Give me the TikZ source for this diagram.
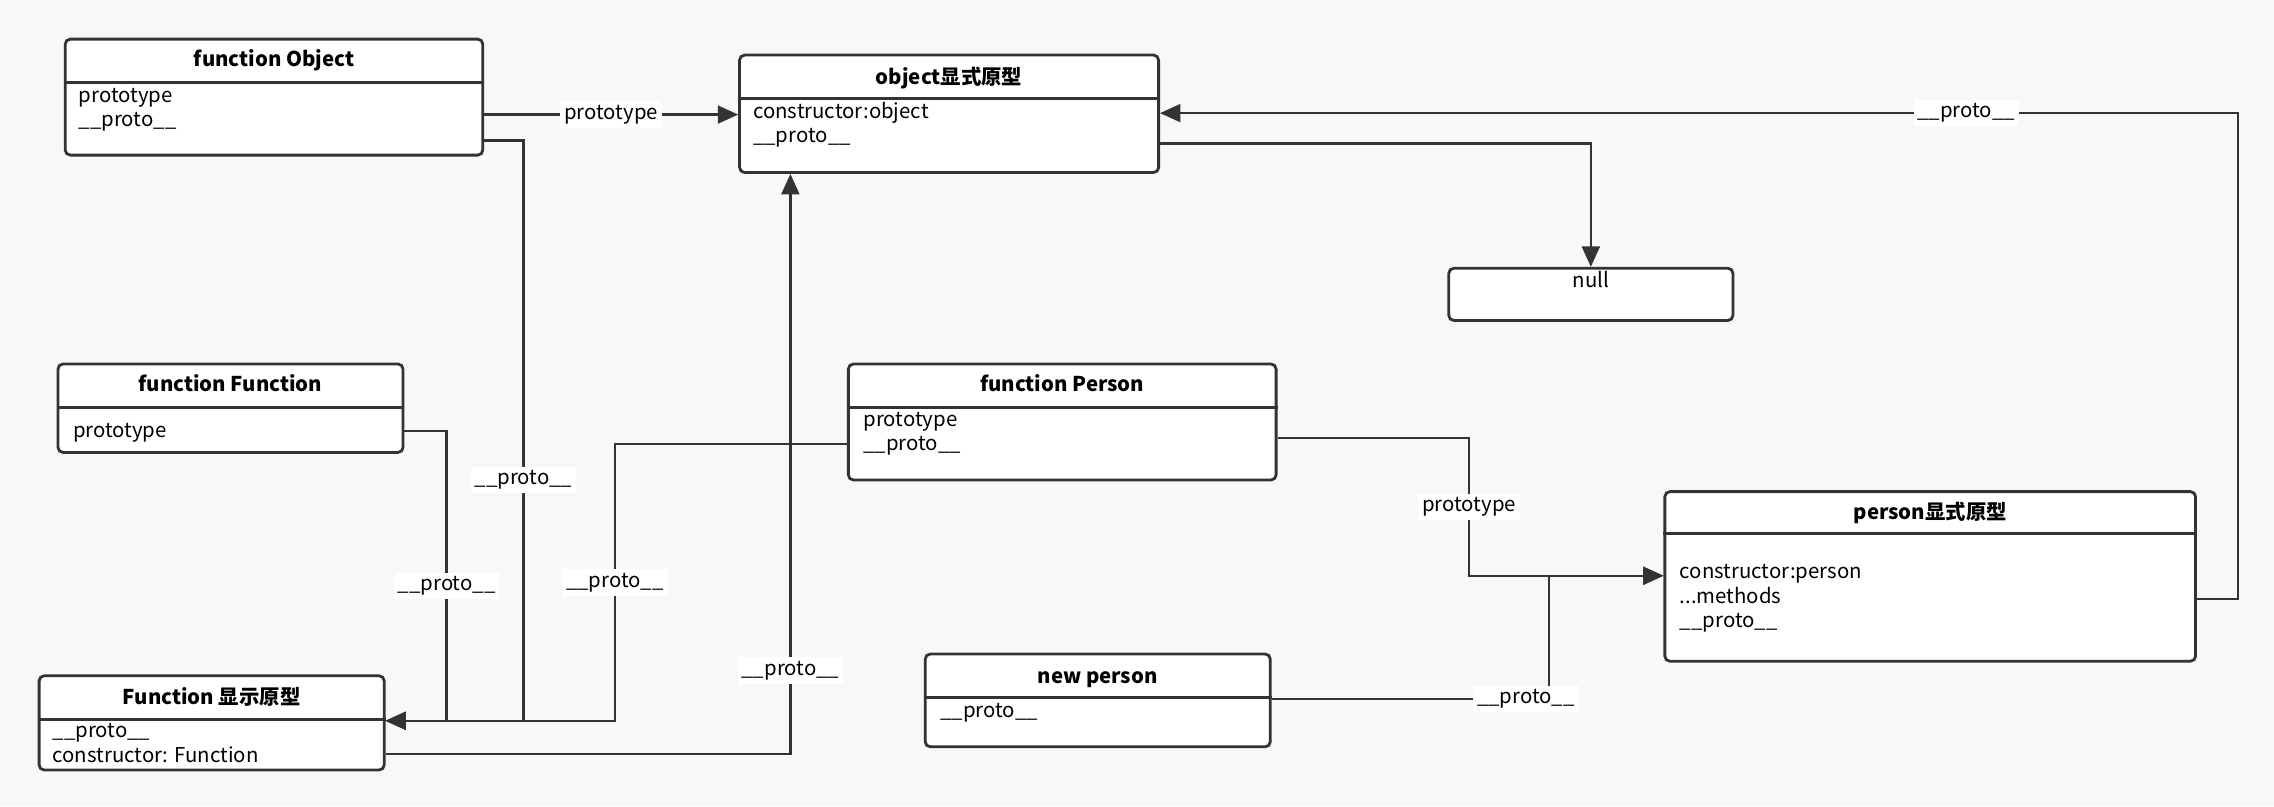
\documentclass[tikz,border=0pt]{standalone}
\usepackage{fontspec}
\setmainfont{Noto Sans CJK SC}
\usetikzlibrary{arrows.meta}
\definecolor{bgc}{HTML}{F8F8F8}
\definecolor{ink}{HTML}{333333}

\begin{document}
\begin{tikzpicture}[>={Triangle[length=8pt,width=7pt]}, x=0.02cm, y=-0.02cm, font=\fontsize{8}{9.5}\selectfont,
  box/.style={draw=ink, fill=white, line width=1.1pt, rounded corners=2pt, inner sep=0pt, anchor=north west},
  bar/.style={draw=ink, line width=1.1pt},
  hd/.style={font=\fontsize{8}{9.5}\selectfont\bfseries, anchor=base, inner sep=0pt},
  txt/.style={align=left, anchor=base west, inner sep=0pt},
  link/.style={draw=ink, line width=0.95pt},
  lbl/.style={fill=white, inner sep=1.5pt}]

\useasboundingbox (0,0) rectangle (1568,556);
\fill[bgc] (0,0) rectangle (1568,556);

%\draw[step=50, gray!20] (0,0) grid (1568,556);

% boxes
\node[box, minimum width=5.76cm, minimum height=1.6cm] (objF) at (44,26) {};
\node[box, minimum width=5.78cm, minimum height=1.62cm] (objP) at (509,37) {};
\node[box, minimum width=3.92cm, minimum height=0.72cm] (null) at (998,184) {};
\node[box, minimum width=4.76cm, minimum height=1.22cm] (funF) at (39,250) {};
\node[box, minimum width=5.9cm, minimum height=1.6cm] (perF) at (584,250) {};
\node[box, minimum width=7.32cm, minimum height=2.34cm] (perP) at (1147,338) {};
\node[box, minimum width=4.76cm, minimum height=1.3cm] (funP) at (26,465) {};
\node[box, minimum width=4.76cm, minimum height=1.28cm] (newP) at (637,450) {};

\draw[bar] (objF.west |- 0,57) -- (objF.east |- 0,57);
\draw[bar] (objP.west |- 0,68) -- (objP.east |- 0,68);
\draw[bar] (funF.west |- 0,281) -- (funF.east |- 0,281);
\draw[bar] (perF.west |- 0,281) -- (perF.east |- 0,281);
\draw[bar] (perP.west |- 0,368) -- (perP.east |- 0,368);
\draw[bar] (funP.west |- 0,496) -- (funP.east |- 0,496);
\draw[bar] (newP.west |- 0,481) -- (newP.east |- 0,481);

\node[hd] (objFt) at (objF.north |- 0,46) {function Object};
\node[hd] (objPt) at (objP.north |- 0,58) {object显式原型};
\node[hd] (funFt) at (funF.north |- 0,270) {function Function};
\node[hd] (perFt) at (perF.north |- 0,270) {function Person};
\node[hd] (perPt) at (perP.north |- 0,358) {person显式原型};
\node[hd] (funPt) at (funP.north |- 0,486) {Function 显示原型};
\node[hd] (newPt) at (newP.north |- 0,471) {new person};

% base = last line
\node[txt] (objFb) at (54,87.5) {prototype\\\_\_proto\_\_};
\node[txt] (objPb) at (519,98.5) {constructor:object\\\_\_proto\_\_};
\node[anchor=base, inner sep=0pt] (nullb) at (null.north |- 0,198.5) {null};
\node[txt] (funFb) at (50,301.5) {prototype};
\node[txt] (perFb) at (595,310.5) {prototype\\\_\_proto\_\_};
\node[txt] (perPb) at (1158,432.5) {constructor:person\\...methods\\\_\_proto\_\_};
\node[txt] (funPb) at (36,525.5) {\_\_proto\_\_\\constructor: Function};
\node[txt] (newPb) at (648,494.5) {\_\_proto\_\_};

% links
\draw[link,->] (objF.east |- 0,79) -- node[lbl]{prototype} (objP.west |- 0,79);
\draw[link,->] (objF.east |- 0,97) -- (361,97) -- node[lbl,pos=0.585]{\_\_proto\_\_} (361,497) -- (funP.east |- 0,497);
\draw[link,->] (funF.east |- 0,297) -- (308,297) -- node[lbl,pos=0.535]{\_\_proto\_\_} (308,497) -- (funP.east |- 0,497);
\draw[link,->] (perF.west |- 0,306) -- (424,306) -- node[lbl]{\_\_proto\_\_} (424,497) -- (funP.east |- 0,497);
\draw[link,->] (funP.east |- 0,520) -- (545,520) -- node[lbl,pos=0.144]{\_\_proto\_\_} (545,0 |- objP.south);
\draw[link,->] (objP.east |- 0,99) -| (null.north);
\draw[link,->] (perP.east |- 0,413) -- (1543,413) -- (1543,78) -- node[lbl,pos=0.252]{\_\_proto\_\_} (objP.east |- 0,78);
\draw[link,->] (perF.east |- 0,302) -- (1013,302) -- node[lbl]{prototype} (1013,397) -- (perP.west |- 0,397);
\draw[link,->] (newP.east |- 0,482) -- node[lbl,pos=0.917]{\_\_proto\_\_} (1068,482) -- (1068,397) -- (perP.west |- 0,397);

\end{tikzpicture}
\end{document}
